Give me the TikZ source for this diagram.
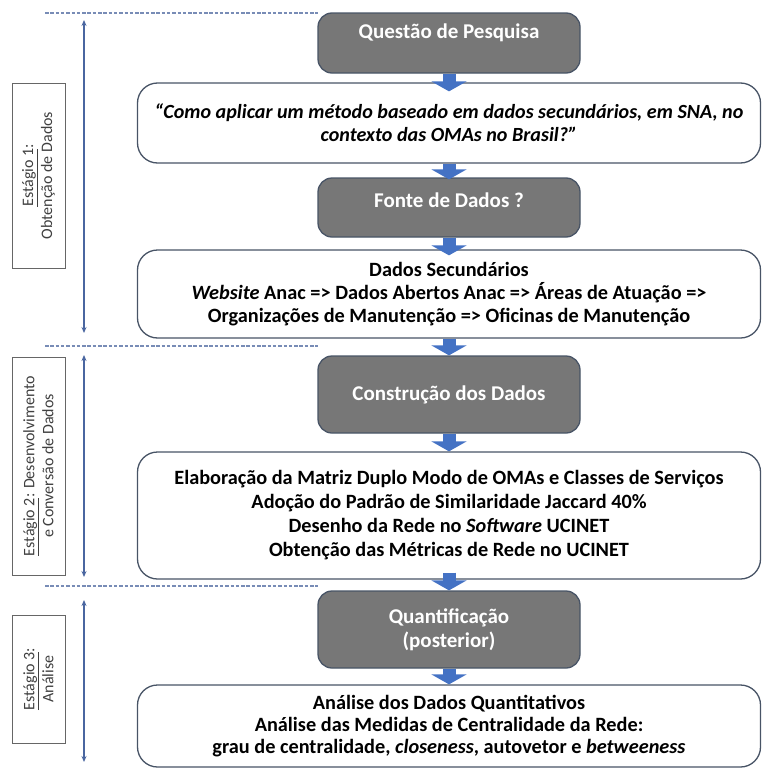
\documentclass[tikz,border=0pt]{standalone}
\usepackage{fontspec}
\setmainfont{Carlito}
\usetikzlibrary{arrows.meta}
\usetikzlibrary{positioning}
\definecolor{mgray}{RGB}{119,119,119}
\definecolor{mslate}{RGB}{72,84,102}
\definecolor{mblue}{RGB}{68,114,196}
\definecolor{mline}{RGB}{74,102,160}
\definecolor{mdash}{RGB}{120,140,182}
\tikzset{
  darkbox/.style = {draw=mslate, fill=mgray, line width=1.3pt, rounded corners=14pt,
    minimum width=262pt, text=white, font=\fontsize{21}{24}\selectfont\bfseries, align=center},
  darktext/.style = {text=white, font=\fontsize{21}{24}\selectfont\bfseries, inner sep=0},
  whitebox/.style = {draw=mslate, fill=white, line width=1.3pt, rounded corners=20pt,
    minimum width=623pt, font=\fontsize{20.3}{23}\selectfont\bfseries, align=center},
  stagebox/.style = {draw=black!60, fill=white, line width=0.9pt, rotate=90,
    minimum height=53pt, text=black!75, font=\fontsize{16}{19}\selectfont, align=center},
  flow/.style = {mblue, line width=13pt, -{Triangle[width=35pt, length=10pt]}},
  span/.style = {mline, line width=1.2pt, {Stealth[length=6pt, width=5pt]}-{Stealth[length=6pt, width=5pt]}},
  divider/.style = {mdash, line width=1.2pt, dash pattern=on 3.5pt off 1.8pt}
}

\begin{document}
\begin{tikzpicture}[x=1pt, y=-1pt]
    \useasboundingbox (0,0) rectangle (762,771);

    % flow boxes
    \node [darkbox, minimum height=60pt] (questao) at (449,43) {};
    \node [darktext] (questao-txt) at ([yshift=10pt]questao.center) {Questão de Pesquisa};
    \node [whitebox, minimum height=80pt, font=\fontsize{20.1}{23}\selectfont\bfseries\itshape] (pergunta) at (449,123)
      {“Como aplicar um método baseado em dados secundários, em SNA, no\\contexto das OMAs no Brasil?”};
    \node [darkbox, minimum height=59pt] (fonte) at (449,207.5) {};
    \node [darktext] (fonte-txt) at ([yshift=7pt]fonte.center) {Fonte de Dados ?};
    \node [whitebox, minimum height=88pt] (secund) at (449,294)
      {Dados Secundários\\\textit{Website} Anac => Dados Abertos Anac => Áreas de Atuação =>\\Organizações de Manutenção => Oficinas de Manutenção};
    \node [darkbox, minimum height=77pt] (construcao) at (449,394.5) {Construção dos Dados};
    \node [whitebox, minimum height=127pt, font=\fontsize{20.3}{24}\selectfont\bfseries] (elab) at (449,515.5)
      {Elaboração da Matriz Duplo Modo de OMAs e Classes de Serviços\\Adoção do Padrão de Similaridade Jaccard 40\%\\Desenho da Rede no \textit{Software} UCINET\\Obtenção das Métricas de Rede no UCINET};
    \node [darkbox, minimum height=77pt] (quant) at (449,629.5) {Quantificação\\(posterior)};
    \node [whitebox, minimum height=82pt, font=\fontsize{20.3}{22}\selectfont\bfseries] (analise) at (449,726)
      {Análise dos Dados Quantitativos\\Análise das Medidas de Centralidade da Rede:\\grau de centralidade, \textit{closeness}, autovetor e \textit{betweeness}};

    \draw [flow] (questao.south) -- ([yshift=-9pt]pergunta.north);
    \draw [flow] (pergunta.south) -- ([yshift=-2pt]fonte.north);
    \draw [flow] (fonte.south) -- ([yshift=-6pt]secund.north);
    \draw [flow] (secund.south) -- (construcao.north);
    \draw [flow] (construcao.south) -- (elab.north);
    \draw [flow] ([yshift=7pt]elab.south) -- (quant.north);
    \draw [flow] (quant.south) -- (analise.north);

    % stages
    \node [stagebox, minimum width=185pt] (estagio1) at (38.5,175.5) {\underline{Estágio 1}:\\Obtenção de Dados};
    \node [stagebox, minimum width=218pt] (estagio2) at (38.5,466) {\underline{Estágio 2}: Desenvolvimento\\e Conversão de Dados};
    \node [stagebox, minimum width=128pt] (estagio3) at (38.5,679) {\underline{Estágio 3}:\\Análise};

    \coordinate (s1-top) at (84,20);
    \coordinate (s1-bot) at (84,333);
    \coordinate (s2-top) at (84,355);
    \coordinate (s2-bot) at (84,577);
    \coordinate (s3-top) at (84,600);
    \coordinate (s3-bot) at (84,762);
    \draw [span] (s1-top) -- (s1-bot);
    \draw [span] (s2-top) -- (s2-bot);
    \draw [span] (s3-top) -- (s3-bot);

    \coordinate (d1-l) at (45,13);
    \coordinate (d1-r) at (318,13);
    \coordinate (d2-l) at (45,346);
    \coordinate (d2-r) at (318,346);
    \coordinate (d3-l) at (45,586);
    \coordinate (d3-r) at (318,586);
    \draw [divider] (d1-l) -- (d1-r);
    \draw [divider] (d2-l) -- (d2-r);
    \draw [divider] (d3-l) -- (d3-r);
\end{tikzpicture}
\end{document}
